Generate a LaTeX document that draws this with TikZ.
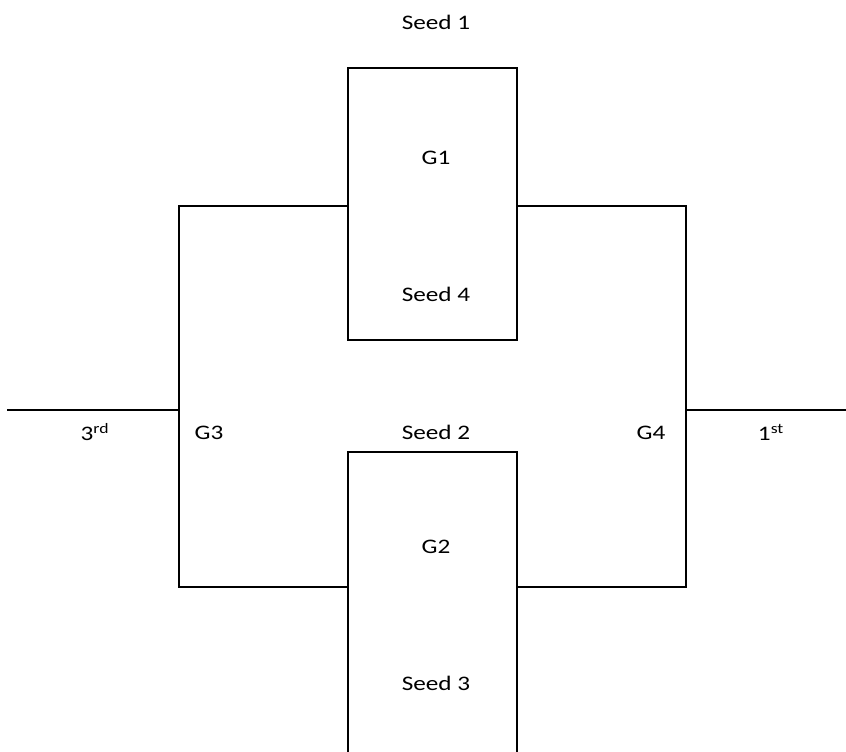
\documentclass[tikz,border=0pt]{standalone}
\usepackage{fontspec}
\setmainfont[FakeStretch=1.22]{Carlito}
\begin{document}
\begin{tikzpicture}[x=0.75pt,y=-0.75pt,
  wire/.style={line width=1.5pt, line cap=rect},
  lbl/.style={inner sep=0pt, anchor=base, font=\fontsize{15.5}{18}\selectfont}]
\useasboundingbox (0,0) rectangle (846,752);
\begin{scope}
\clip (0,0) rectangle (846,752);
% top box
\draw[wire] (348,68) rectangle (517,340);
% bottom box (bottom edge cut off)
\draw[wire] (348,760) -- (348,452) -- (517,452) -- (517,760);
\end{scope}
\coordinate (tl) at (348,206);
\coordinate (tr) at (517,206);
\coordinate (bl) at (348,587);
\coordinate (br) at (517,587);
\coordinate (lin) at (179,410);
\coordinate (rin) at (686,410);
\coordinate (lend) at (8,410);
\coordinate (rend) at (846,410);
% left bracket
\draw[wire] (tl) -- (179,206) -- (179,587) -- (bl);
% right bracket
\draw[wire] (tr) -- (686,206) -- (686,587) -- (br);
% side lines
\draw[wire] (lend) -- (lin);
\draw[wire] (rin) -- (rend);
% labels
\node[lbl] (s1) at (436,30) {Seed 1};
\node[lbl] (g1) at (436,165) {G1};
\node[lbl] (s4) at (436,301) {Seed 4};
\node[lbl] (s2) at (436,439) {Seed 2};
\node[lbl] (g3) at (209,439) {G3};
\node[lbl] (g4) at (651,439) {G4};
\node[lbl] (r3) at (95,440) {3\textsuperscript{rd}};
\node[lbl] (r1) at (771,440) {1\textsuperscript{st}};
\node[lbl] (g2) at (436,553) {G2};
\node[lbl] (s3) at (436,690) {Seed 3};
\end{tikzpicture}
\end{document}
